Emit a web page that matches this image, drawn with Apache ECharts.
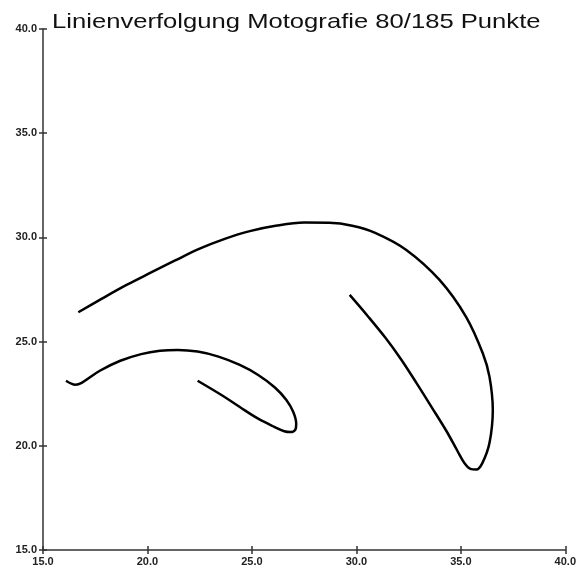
<!DOCTYPE html>
<html>
<head>
<meta charset="utf-8">
<script src="https://cdn.jsdelivr.net/npm/echarts@6/dist/echarts.min.js"></script>
<style>
  html, body { margin: 0; padding: 0; background: #fff; }
  #chart { width: 579px; height: 570px; }
</style>
</head>
<body>
<div id="chart"></div>
<script>
// Lower trace (left hook -> arc -> hook -> back)
const lowerX = [16.10, 16.55, 16.85, 17.72, 18.70, 19.70, 20.60, 21.45, 22.40, 23.40, 24.42, 25.30, 26.10, 26.65, 26.98, 27.12, 27.08, 26.85, 26.55, 26.05, 25.30, 24.42, 23.60, 22.40];
const lowerY = [23.12, 22.93, 23.02, 23.60, 24.08, 24.40, 24.56, 24.60, 24.52, 24.28, 23.88, 23.40, 22.80, 22.20, 21.62, 21.05, 20.78, 20.66, 20.70, 20.92, 21.30, 21.86, 22.40, 23.12];

// Upper trace (long arc -> loop -> back up)
const upperX = [16.69, 17.80, 19.00, 20.20, 21.30, 22.50, 23.70, 24.90, 26.20, 27.50, 28.70, 29.80, 30.90, 32.39, 33.98, 35.25, 36.05, 36.37, 36.53, 36.37, 36.03, 35.74, 35.46, 35.17, 34.84, 34.31, 33.60, 32.88, 32.16, 31.40, 30.54, 29.68];
const upperY = [26.41, 27.05, 27.72, 28.33, 28.88, 29.46, 29.93, 30.30, 30.57, 30.71, 30.70, 30.56, 30.22, 29.40, 27.96, 26.19, 24.44, 23.32, 21.72, 20.13, 19.17, 18.86, 18.89, 19.17, 19.75, 20.71, 21.86, 23.01, 24.12, 25.17, 26.23, 27.24];

const axisTicks = [15, 20, 25, 30, 35, 40];
const titleText = "Linienverfolgung Motografie 80/185 Punkte";

function zipPoints(xs, ys) {
  return xs.map((x, i) => [x, ys[i]]);
}

const chart = echarts.init(document.getElementById("chart"), null, { renderer: "canvas" });

const fontFamily = "Liberation Sans, Arial, sans-serif";

const axisCommon = {
  type: "value",
  min: axisTicks[0],
  max: axisTicks[axisTicks.length - 1],
  interval: 5,
  splitLine: { show: false },
  axisLine: { show: true, lineStyle: { color: "#333", width: 1.5 } },
  axisTick: { show: true, length: 4, lineStyle: { color: "#333", width: 1.5 } },
  axisLabel: {
    color: "#222",
    fontFamily: fontFamily,
    fontWeight: "bold",
    fontSize: 11,
    formatter: (v) => v.toFixed(1),
  },
};

// second axis pair only draws the inner half of the crossing ticks
const innerTickAxis = {
  type: "value",
  min: axisTicks[0],
  max: axisTicks[axisTicks.length - 1],
  interval: 5,
  splitLine: { show: false },
  axisLine: { show: false },
  axisLabel: { show: false },
  axisTick: { show: true, inside: true, length: 4, lineStyle: { color: "#333", width: 1.5 } },
};

const lineStyle = { color: "#000", width: 2.5 };

chart.setOption({
  backgroundColor: "#fff",
  animation: false,
  // title is drawn as a graphic so it can be widened like the original
  graphic: [
    {
      type: "text",
      x: 52,
      y: 12,
      scaleX: 1.22,
      style: {
        text: titleText,
        fontFamily: fontFamily,
        fontSize: 21,
        fill: "#111",
      },
    },
  ],
  grid: { left: 43, right: 13, top: 29, bottom: 20, containLabel: false },
  xAxis: [
    Object.assign({}, axisCommon, {
      position: "bottom",
      axisLabel: Object.assign({}, axisCommon.axisLabel, { margin: 6 }),
    }),
    Object.assign({}, innerTickAxis, { position: "bottom" }),
  ],
  yAxis: [
    Object.assign({}, axisCommon, {
      position: "left",
      axisLabel: Object.assign({}, axisCommon.axisLabel, { margin: 6 }),
    }),
    Object.assign({}, innerTickAxis, { position: "left" }),
  ],
  series: [
    {
      type: "line",
      xAxisIndex: 0,
      yAxisIndex: 0,
      data: zipPoints(lowerX, lowerY),
      smooth: 0.35,
      showSymbol: false,
      lineStyle: lineStyle,
    },
    {
      type: "line",
      xAxisIndex: 0,
      yAxisIndex: 0,
      data: zipPoints(upperX, upperY),
      smooth: 0.35,
      showSymbol: false,
      lineStyle: lineStyle,
    },
  ],
});
</script>
</body>
</html>
